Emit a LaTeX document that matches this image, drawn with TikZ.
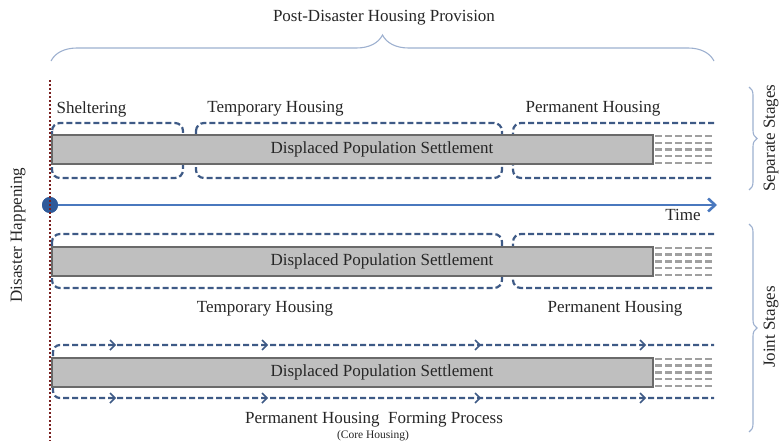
\documentclass[tikz,border=0pt]{standalone}
\usepackage{fontspec}
\setmainfont{Liberation Serif}
\usetikzlibrary{decorations.pathreplacing,arrows.meta}
\definecolor{stageblue}{HTML}{3E5A86}
\definecolor{timeblue}{HTML}{4A78BE}
\definecolor{circblue}{HTML}{2F5A9A}
\definecolor{dotred}{HTML}{7A1F1F}
\definecolor{barfill}{HTML}{BFBFBF}
\definecolor{bardraw}{HTML}{6A6A6A}
\definecolor{stripeg}{HTML}{A0A0A0}
\definecolor{bracecol}{HTML}{9DB0CF}
\definecolor{txt}{HTML}{262626}
\begin{document}
\begin{tikzpicture}[x=1pt,y=-1pt,
  lbl/.style={font=\fontsize{17}{19}\selectfont, text=txt, inner sep=0pt},
  small/.style={font=\fontsize{11.5}{13}\selectfont, text=txt, inner sep=0pt},
  stagebox/.style={draw=stageblue, line width=2.2pt, dash pattern=on 6pt off 3pt, rounded corners=8pt},
  stageline/.style={draw=stageblue, line width=2.2pt, dash pattern=on 6pt off 3pt, rounded corners=7pt},
  chev/.style={draw=stageblue, line width=1.7pt, solid},
  barbox/.style={draw=bardraw, fill=barfill, line width=1.5pt, inner sep=0pt, minimum width=601pt, minimum height=29pt},
  stripe/.style={draw=stripeg, line width=2.3pt, dash pattern=on 7pt off 3pt},
  bracket/.style={draw=bracecol, line width=1.1pt, decorate},
]
\useasboundingbox (0,0) rectangle (782,444);

% title and brace
\node[lbl] (title) at (384,18) {Post-Disaster Housing Provision};
\coordinate (brL) at (51,61);
\coordinate (brR) at (714,61);
\draw[bracket, decoration={brace, amplitude=26pt}] (brL) -- (brR);

% ---------- Row 1 : separate stages ----------
\draw[stagebox] (52,123) rectangle (183,178);
\draw[stagebox] (196,123) rectangle (502,178);
\draw[stagebox] (714,123) -- (513,123) -- (513,178) -- (714,178);
\node[barbox] (bar1) at (352.5,149.5) {};
\foreach \yy in {136,143,149.5,156,163}{\draw[stripe] (655,\yy) -- (715,\yy);}
\node[lbl] (shel) at (91.5,109) {Sheltering};
\node[lbl] (temp1) at (275.5,109) {Temporary Housing};
\node[lbl] (perm1) at (593,109) {Permanent Housing};
\node[lbl] (dps1) at (382,149.5) {Displaced Population Settlement};

% ---------- time axis ----------
\coordinate (tend) at (717,205);
\node[circle, fill=circblue, minimum size=16pt, inner sep=0pt] (dis) at (50,205) {};
\draw[timeblue, line width=2.6pt, -{Straight Barb[length=7pt,width=13pt]}] (dis.center) -- (tend);
\node[circle, fill=circblue, minimum size=16pt, inner sep=0pt] (dis2) at (50,205) {};
\node[lbl] (time) at (683,215) {Time};

% ---------- Row 2 : joint stages ----------
\draw[stagebox] (52,234) rectangle (502,288);
\draw[stagebox] (714,234) -- (513,234) -- (513,288) -- (714,288);
\node[barbox] (bar2) at (352.5,261.5) {};
\foreach \yy in {248,254.5,261.5,268,275}{\draw[stripe] (655,\yy) -- (715,\yy);}
\node[lbl] (dps2) at (382,261.5) {Displaced Population Settlement};
\node[lbl] (temp2) at (265,309) {Temporary Housing};
\node[lbl] (perm2) at (615,309) {Permanent Housing};

% ---------- Row 3 : core housing ----------
\draw[stageline] (53,356) -- (53,345) -- (714,345);
\draw[stageline] (53,387) -- (53,398) -- (714,398);
\foreach \xx in {115,267,480,645}{
  \draw[chev] (\xx-5,340) -- (\xx,345) -- (\xx-5,350);
  \draw[chev] (\xx-5,393) -- (\xx,398) -- (\xx-5,403);
}
\node[barbox] (bar3) at (352.5,372.5) {};
\foreach \yy in {359,365.5,372.5,379,386}{\draw[stripe] (655,\yy) -- (715,\yy);}
\node[lbl] (dps3) at (382,372.5) {Displaced Population Settlement};
\node[lbl] (phf) at (374,420) {Permanent Housing\ \ Forming Process};
\node[small] (core) at (373,436) {(Core Housing)};

% ---------- disaster line ----------
\coordinate (dtop) at (50,80);
\coordinate (dbot) at (50,441);
\draw[dotred, line width=2.2pt, dash pattern=on 1.8pt off 2.2pt] (dtop) -- (dbot);
\node[lbl, rotate=90] (dh) at (18,235) {Disaster Happening};

% ---------- right brackets ----------
\coordinate (sT) at (749,87);
\coordinate (sB) at (749,190);
\coordinate (jT) at (749,224);
\coordinate (jB) at (749,432);
\draw[bracket, decoration={brace, amplitude=8pt}] (sT) -- (sB);
\draw[bracket, decoration={brace, amplitude=8pt}] (jT) -- (jB);
\node[lbl, rotate=90] (sep) at (771,138) {Separate Stages};
\node[lbl, rotate=90] (joint) at (771,327) {Joint Stages};
\end{tikzpicture}
\end{document}
